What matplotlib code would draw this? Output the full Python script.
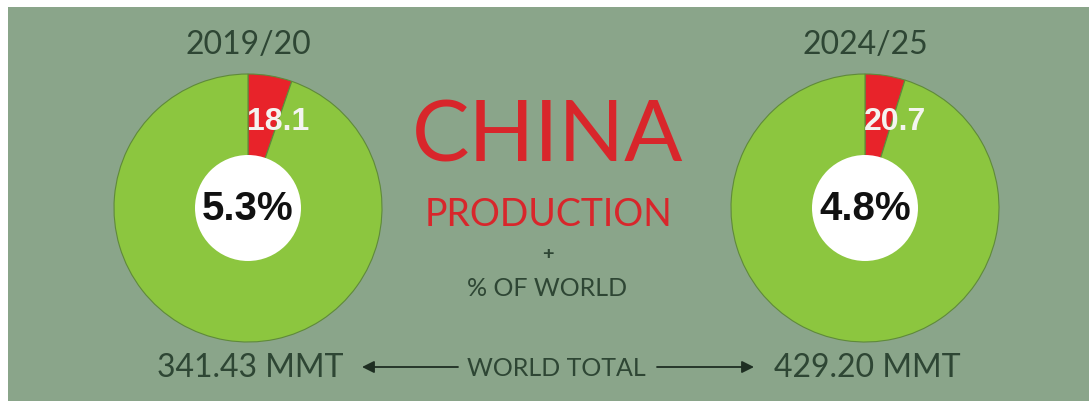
import matplotlib
matplotlib.use("Agg")
import matplotlib.pyplot as plt
from matplotlib.patches import Circle, Rectangle

# data
seasons = ["2019/20", "2024/25"]
china_mmt = [18.1, 20.7]
world_mmt = [341.43, 429.20]
share_pct = ["5.3%", "4.8%"]
china_labels = ["18.1", "20.7"]
world_labels = ["341.43 MMT", "429.20 MMT"]

BG = "#8aa58a"
GREEN = "#8cc63f"
RED = "#e8232a"
DARK = "#2e4634"
TITLE_RED = "#d8262b"

W, H = 1089, 401
fig = plt.figure(figsize=(W / 100, H / 100), dpi=100, facecolor=BG)
ax = fig.add_axes([0, 0, 1, 1])

thin = ["Lato", "DejaVu Sans"]
bold = ["Liberation Sans", "DejaVu Sans"]

centers_x = [248, 865]
cy = H - 208
outer_r = 134
hole_r = 53

for i in range(2):
    cx = centers_x[i]
    ax.pie([china_mmt[i], world_mmt[i] - china_mmt[i]], colors=[RED, GREEN],
           startangle=90, counterclock=False, radius=outer_r, center=(cx, cy),
           wedgeprops=dict(edgecolor="#5f8a3a", linewidth=0.8))
    ax.add_patch(Circle((cx, cy), hole_r, facecolor="white", edgecolor="none", zorder=5))
    ax.text(cx, cy - 1, share_pct[i], ha="center", va="center", fontsize=29,
            fontweight="bold", family=bold, color="#111111", zorder=6)
    ax.text(cx + 30, H - 122, china_labels[i], ha="center", va="center",
            fontsize=23, fontweight="bold", family=bold, color="#f4f4f0", zorder=6)
    ax.text(cx, H - 45, seasons[i], ha="center", va="center", fontsize=23,
            family=thin, color=DARK)
    ax.text(cx + 2, H - 368, world_labels[i], ha="center", va="center", fontsize=23,
            family=thin, color=DARK)

# white strips along top and left edge
ax.add_patch(Rectangle((-5, H - 7), W + 10, 20, facecolor="white", edgecolor="none", zorder=-5))
ax.add_patch(Rectangle((-5, -5), 13, H + 10, facecolor="white", edgecolor="none", zorder=-5))

ax.text(548, H - 137, "CHINA", ha="center", va="center", fontsize=62,
        family=thin, color=TITLE_RED)
ax.text(548, H - 215, "PRODUCTION", ha="center", va="center", fontsize=27,
        family=thin, color=TITLE_RED)
ax.text(548, H - 254, "+", ha="center", va="center", fontsize=14,
        fontweight="bold", family=bold, color=DARK)
ax.text(547, H - 288, "% OF WORLD", ha="center", va="center", fontsize=18,
        family=thin, color=DARK)
ax.text(556, H - 368, "WORLD TOTAL", ha="center", va="center", fontsize=18,
        family=thin, color=DARK)

ax.annotate("", xy=(362, H - 367), xytext=(458, H - 367),
            arrowprops=dict(arrowstyle="-|>", color="#1e2e22", lw=1.3,
                            mutation_scale=18, shrinkA=0, shrinkB=0))
ax.annotate("", xy=(754, H - 367), xytext=(657, H - 367),
            arrowprops=dict(arrowstyle="-|>", color="#1e2e22", lw=1.3,
                            mutation_scale=18, shrinkA=0, shrinkB=0))

ax.set_xlim(0, W)
ax.set_ylim(0, H)
ax.set_aspect("auto")
ax.axis("off")

fig.savefig("out.png", dpi=100, facecolor=BG)
